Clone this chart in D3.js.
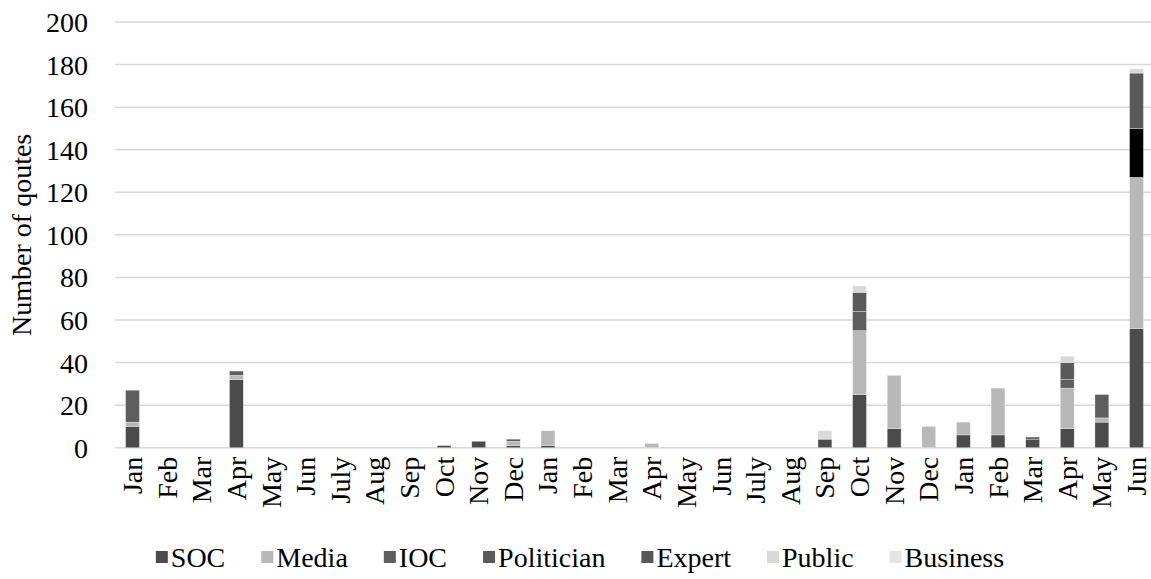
<!DOCTYPE html>
<html><head><meta charset="utf-8">
<script src="https://cdn.jsdelivr.net/npm/d3@7"></script>
<style>body{margin:0;background:#fff}svg{display:block}svg text{font-family:"Liberation Serif","Times New Roman",Tinos,"DejaVu Serif",serif;fill:#000}</style>
</head><body>
<svg id="c" width="1151" height="579"></svg>
<script>
const categories = ["Jan","Feb","Mar","Apr","May","Jun","July","Aug","Sep","Oct","Nov","Dec",
  "Jan","Feb","Mar","Apr","May","Jun","July","Aug","Sep","Oct","Nov","Dec",
  "Jan","Feb","Mar","Apr","May","Jun"];
const seriesNames = ["SOC","Media","IOC","Politician","Expert","Public","Business"];
const SOC        = [10,0,0,32,0,0,0,0,0,1,3,1,1,0,0,0,0,0,0,0,4,25,9,0,6,6,4,9,12,56];
const Media      = [2,0,0,2,0,0,0,0,0,0,0,2,7,0,0,2,0,0,0,0,0,30,25,10,6,22,0,19,2,71];
const IOC        = [15,0,0,2,0,0,0,0,0,0,0,1,0,0,0,0,0,0,0,0,0,9,0,0,0,0,1,4,11,23];
const Politician = [0,0,0,0,0,0,0,0,0,0,0,0,0,0,0,0,0,0,0,0,0,9,0,0,0,0,0,8,0,26];
const Expert     = [0,0,0,0,0,0,0,0,0,0,0,0,0,0,0,0,0,0,0,0,0,0,0,0,0,0,0,0,0,0];
const Public     = [0,0,0,0,0,0,0,0,0,0,0,0,0,0,0,0,0,0,0,0,4,3,0,0,0,0,0,3,0,2];
const Business   = [0,0,0,0,0,0,0,0,0,0,0,0,0,0,0,0,0,0,0,0,0,0,0,0,0,0,0,0,0,0];
const yTicks = [0,20,40,60,80,100,120,140,160,180,200];
const yTitle = "Number of qoutes";

const seriesValues = [SOC,Media,IOC,Politician,Expert,Public,Business];
const colors = ["#4b4b4b","#b8b8b8","#5e5e5e","#5a5a5a","#585858","#d9d9d9","#e4e4e4"];
// one point drawn in black in the original (IOC, last month)
const pointColorOverride = {series:"IOC", index:29, color:"#000000"};
const FONT = '"Liberation Serif","Times New Roman",Tinos,"DejaVu Serif",serif';

const table = categories.map((c,i)=>{const o={idx:i,cat:c}; seriesNames.forEach((s,k)=>o[s]=seriesValues[k][i]); return o;});
const stack = d3.stack().keys(seriesNames)(table);

const svg = d3.select("#c");
const mLeft = 115.2, mRight = 1153.8, mTop = 22, mBottom = 447.7;
const x = d3.scaleBand().domain(d3.range(categories.length)).range([mLeft,mRight]).paddingInner(0.6).paddingOuter(0.3);
const y = d3.scaleLinear().domain([0,200]).range([mBottom,mTop]);

// gridlines
svg.append("g").selectAll("line").data(yTicks).join("line")
  .attr("x1",mLeft).attr("x2",1151).attr("y1",d=>y(d)).attr("y2",d=>y(d))
  .attr("stroke","#d9d9d9").attr("stroke-width",1.5);

// y axis labels
const yAxis = d3.axisLeft(y).tickValues(yTicks).tickSize(0).tickPadding(0);
const ya = svg.append("g").attr("transform",`translate(88,0)`).call(yAxis);
ya.select(".domain").remove();
ya.attr("font-family",null).attr("font-size",null);
ya.selectAll("text").style("font-size","28px").style("font-family",FONT).attr("fill","#000").attr("dy","0.34em");

// bars
const bw = x.bandwidth();
svg.append("g").selectAll("g").data(stack).join("g")
  .each(function(layer, k){
    d3.select(this).selectAll("rect").data(layer.filter(d=>d[1]-d[0]>0)).join("rect")
      .attr("x",d=>x(d.data.idx)).attr("width",bw)
      .attr("y",d=>y(d[1])).attr("height",d=>y(d[0])-y(d[1]))
      .attr("fill",d=> (layer.key===pointColorOverride.series && d.data.idx===pointColorOverride.index) ? pointColorOverride.color : colors[k])
      .attr("stroke","#ffffff").attr("stroke-width",0.6).attr("stroke-opacity",0.5);
  });

// x axis labels
const xAxis = d3.axisBottom(x).tickFormat(i=>categories[i]).tickSize(0).tickPadding(0);
const xa = svg.append("g").attr("transform",`translate(0,${mBottom})`).call(xAxis);
xa.select(".domain").remove();
xa.attr("font-family",null).attr("font-size",null);
xa.selectAll("text").style("font-size","28px").style("font-family",FONT).attr("fill","#000")
  .attr("text-anchor","end").attr("transform","rotate(-90)").attr("x",-9).attr("y",0).attr("dy","0.34em");

// y title
svg.append("text").attr("transform",`translate(31,${(mTop+mBottom)/2}) rotate(-90)`)
  .attr("text-anchor","middle").style("font-size","28px").style("font-family",FONT).text(yTitle);

// legend
const lg = svg.append("g").attr("transform","translate(0,557)");
const items = lg.selectAll("g").data(seriesNames).join("g");
items.append("rect").attr("x",0).attr("y",-6).attr("width",12).attr("height",12).attr("fill",(d,i)=>colors[i]);
items.append("text").attr("x",15).attr("dy","0.34em").style("font-size","28px").style("font-family",FONT).text(d=>d);
const widths=[];
items.each(function(){ widths.push(15 + this.querySelector("text").getComputedTextLength());});
const gap = 36;
const total = d3.sum(widths) + gap*(widths.length-1);
let cx = 580 - total/2;
items.attr("transform",(d,i)=>{const t=`translate(${cx},0)`; cx += widths[i]+gap; return t;});
</script>
</body></html>
